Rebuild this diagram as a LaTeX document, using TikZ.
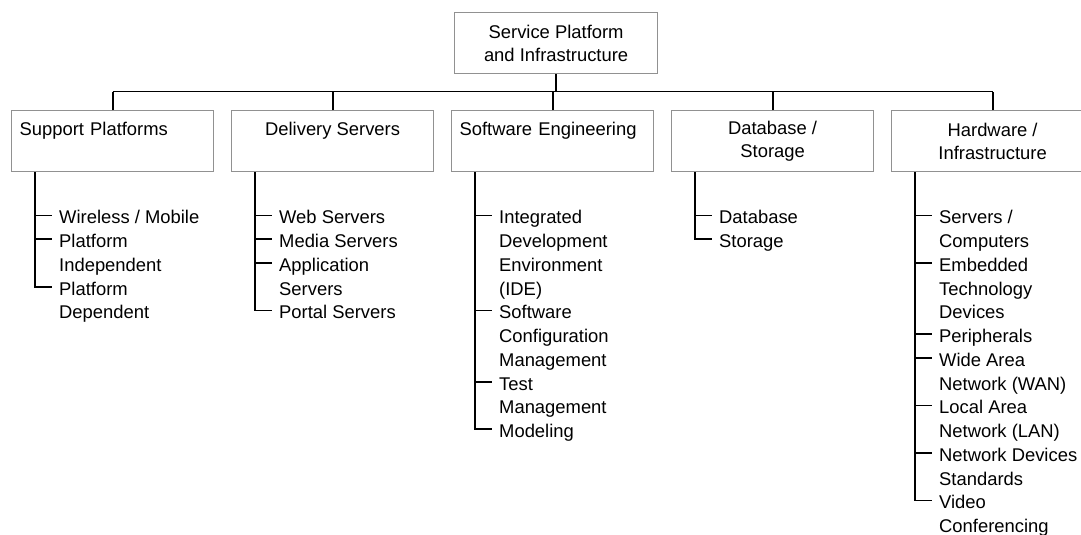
\documentclass[tikz,border=0pt]{standalone}
\usepackage{fontspec}
\setmainfont{Liberation Sans}
\definecolor{boxgray}{RGB}{145,145,145}
\begin{document}
\begin{tikzpicture}[x=1pt,y=-1pt,
  box/.style={draw=boxgray, line width=1.2pt, minimum width=202pt, minimum height=61pt,
    inner sep=0pt, anchor=north west, font=\fontsize{18.4}{23}\selectfont},
  oneline/.style={text height=13pt, text depth=25pt},
  leftbox/.style={text width=186pt, align=left},
  item/.style={anchor=north west, inner sep=0pt, align=left,
    font=\fontsize{18.4}{23.75}\selectfont},
  conn/.style={line width=1.9pt, black}]
\useasboundingbox (0,0) rectangle (1081,535);
% top
\node[box, minimum width=203pt, align=center] (top) at (454,12) {Service Platform\\and Infrastructure};
% categories
\node[box, oneline, leftbox] (sp) at (11,110) {Support Platforms};
\node[box, oneline] (ds) at (231,110) {Delivery Servers};
\node[box, oneline, leftbox] (se) at (451,110) {Software Engineering};
\node[box, align=center] (db) at (671,110) {Database /\\Storage};
\node[box, align=center] (hw) at (891,110) {Hardware /\\Infrastructure};
% bus
\coordinate (bus) at (0,91.5);
\draw[conn] (top.south) -- (top.south |- bus);
\draw[conn] (sp.north |- bus) -- (hw.north |- bus);
\foreach \c in {sp,ds,se,db,hw} \draw[conn] (\c.north) -- (\c.north |- bus);
% column 1
\node[item] (w1) at (59,207) {\strut Wireless / Mobile};
\node[item] (w2) at (59,230.75) {\strut Platform\\Independent};
\node[item] (w3) at (59,278.25) {\strut Platform\\Dependent};
% column 2
\node[item] (d1) at (279,207) {\strut Web Servers};
\node[item] (d2) at (279,230.75) {\strut Media Servers};
\node[item] (d3) at (279,254.5) {\strut Application\\Servers};
\node[item] (d4) at (279,302) {\strut Portal Servers};
% column 3
\node[item] (s1) at (499,207) {\strut Integrated\\Development\\Environment\\(IDE)};
\node[item] (s2) at (499,302) {\strut Software\\Configuration\\Management};
\node[item] (s3) at (499,373.25) {\strut Test\\Management};
\node[item] (s4) at (499,420.75) {\strut Modeling};
% column 4
\node[item] (b1) at (719,207) {\strut Database};
\node[item] (b2) at (719,230.75) {\strut Storage};
% column 5
\node[item] (h1) at (939,207) {\strut Servers /\\Computers};
\node[item] (h2) at (939,254.5) {\strut Embedded\\Technology\\Devices};
\node[item] (h3) at (939,325.75) {\strut Peripherals};
\node[item] (h4) at (939,349.5) {\strut Wide Area\\Network (WAN)};
\node[item] (h5) at (939,397) {\strut Local Area\\Network (LAN)};
\node[item] (h6) at (939,444.5) {\strut Network Devices\\Standards};
\node[item] (h7) at (939,492) {\strut Video\\Conferencing};
% spines
\draw[conn] ([xshift=24pt]sp.south west) |- ([xshift=-7pt,yshift=-8.5pt]w3.north west);
\draw[conn] ([xshift=24pt]ds.south west) |- ([xshift=-7pt,yshift=-8.5pt]d4.north west);
\draw[conn] ([xshift=24pt]se.south west) |- ([xshift=-7pt,yshift=-8.5pt]s4.north west);
\draw[conn] ([xshift=24pt]db.south west) |- ([xshift=-7pt,yshift=-8.5pt]b2.north west);
\draw[conn] ([xshift=24pt]hw.south west) |- ([xshift=-7pt,yshift=-8.5pt]h7.north west);
% ticks
\foreach \i in {w1,w2,d1,d2,d3,s1,s2,s3,b1,h1,h2,h3,h4,h5,h6}
  \draw[conn] ([xshift=-24pt,yshift=-8.5pt]\i.north west) -- ([xshift=-7pt,yshift=-8.5pt]\i.north west);
\end{tikzpicture}
\end{document}
